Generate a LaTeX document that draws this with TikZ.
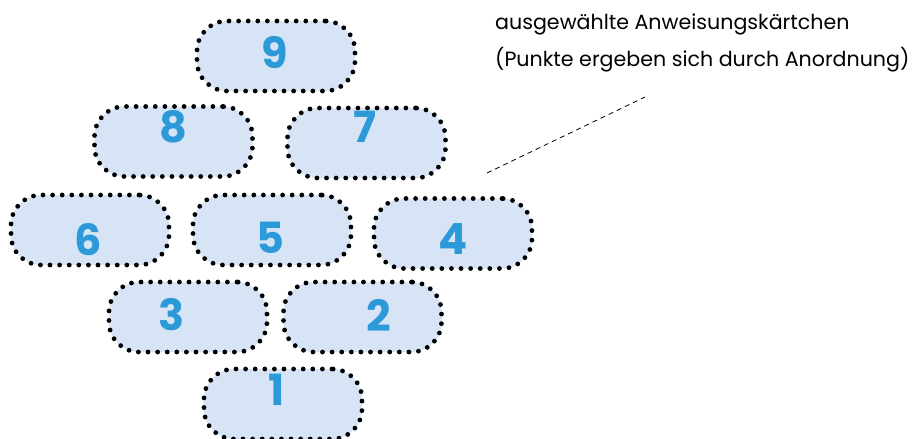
\documentclass[tikz,border=0pt]{standalone}
\usepackage{fontspec}
\setmainfont{Poppins}
\definecolor{pillfill}{HTML}{D6E4F5}
\definecolor{digitblue}{HTML}{2C9AD8}
\begin{document}
\begin{tikzpicture}[x=1pt,y=-1pt,
  pill/.style={draw=black, fill=pillfill, line width=4.8pt, line cap=round,
    dash pattern=on 0pt off 9.6pt, rounded corners=30pt,
    minimum width=158pt, minimum height=70pt, inner sep=0pt},
  digit/.style={text=digitblue, font=\fontsize{43}{43}\selectfont\bfseries, inner sep=0pt},
  note/.style={font=\fontsize{20.6}{22}\selectfont, anchor=base west, inner sep=0pt}]
\useasboundingbox (0,0) rectangle (914,439);
\node[pill] (p9) at (276,56) {};
\node[pill] (p8) at (173.5,141.5) {};
\node[pill] (p7) at (366.5,143) {};
\node[pill] (p6) at (90,230) {};
\node[pill] (p5) at (272,230) {};
\node[pill] (p4) at (453,233.5) {};
\node[pill] (p3) at (188,317) {};
\node[pill] (p2) at (362.5,317) {};
\node[pill] (p1) at (283,404) {};
\node[digit] (d9) at (275,53) {9};
\node[digit] (d8) at (173,127) {8};
\node[digit] (d7) at (365,127) {7};
\node[digit] (d6) at (88,240) {6};
\node[digit] (d5) at (270,238) {5};
\node[digit] (d4) at (453,239) {4};
\node[digit] (d3) at (172,315) {3};
\node[digit] (d2) at (379,315) {2};
\node[digit] (d1) at (277,390) {1};
\node[note] (t1) at (495,30) {ausgewählte Anweisungskärtchen};
\node[note] (t2) at (495,66) {(Punkte ergeben sich durch Anordnung)};
\coordinate (a) at (487,173);
\coordinate (b) at (645,97);
\draw[line width=0.8pt, dash pattern=on 5pt off 4pt] (a) -- (b);
\end{tikzpicture}
\end{document}
